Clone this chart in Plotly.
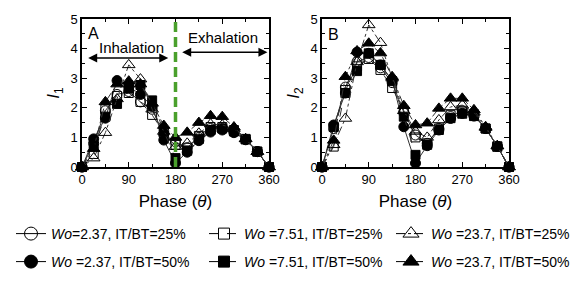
import plotly.graph_objects as go

phase = [0, 22.5, 45, 67.5, 90, 112.5, 135, 157.5, 180, 202.5, 225, 247.5, 270, 292.5, 315, 337.5, 360]

# Panel A: I1
i1_c25 = [0, 0.80, 1.90, 2.45, 2.55, 2.20, 1.95, 1.10, 0.85, 0.65, 1.00, 1.30, 1.30, 1.20, 0.93, 0.52, 0]
i1_c50 = [0, 0.95, 1.65, 2.92, 2.72, 2.45, 2.05, 0.91, 0.13, 0.50, 0.89, 1.18, 1.25, 1.16, 0.92, 0.52, 0]
i1_s25 = [0, 0.44, 1.95, 2.40, 2.50, 2.20, 1.76, 1.15, 0.75, 0.65, 1.05, 1.35, 1.35, 1.25, 0.95, 0.52, 0]
i1_s50 = [0, 0.70, 1.70, 2.13, 2.65, 2.77, 2.25, 1.20, 0.30, 0.55, 0.95, 1.25, 1.30, 1.20, 0.93, 0.52, 0]
i1_t25 = [0, 0.30, 1.16, 2.30, 3.45, 2.97, 1.95, 1.20, 0.69, 0.80, 1.14, 1.45, 1.42, 1.30, 0.95, 0.52, 0]
i1_t50 = [0, 0.62, 2.20, 2.80, 2.90, 2.80, 2.15, 1.40, 1.00, 1.17, 1.50, 1.73, 1.70, 1.35, 0.95, 0.52, 0]

# Panel B: I2
i2_c25 = [0, 1.30, 2.70, 3.56, 3.70, 3.35, 2.85, 1.85, 1.08, 0.80, 1.30, 1.70, 1.90, 1.75, 1.30, 0.70, 0]
i2_c50 = [0, 1.42, 2.50, 3.88, 3.84, 3.45, 2.94, 1.36, 0.13, 0.72, 1.25, 1.64, 1.81, 1.72, 1.30, 0.70, 0]
i2_s25 = [0, 0.69, 2.60, 3.40, 3.65, 3.28, 2.67, 1.90, 1.00, 0.80, 1.30, 1.75, 1.90, 1.78, 1.30, 0.68, 0]
i2_s50 = [0, 1.35, 2.50, 3.24, 3.84, 3.45, 2.90, 1.70, 0.41, 0.75, 1.25, 1.65, 1.80, 1.72, 1.30, 0.70, 0]
i2_t25 = [0, 0.75, 1.64, 3.55, 4.80, 4.20, 3.00, 1.90, 1.20, 1.00, 1.59, 2.03, 2.09, 1.85, 1.33, 0.70, 0]
i2_t50 = [0, 0.90, 3.05, 3.92, 4.18, 3.85, 3.05, 2.07, 1.42, 1.48, 1.98, 2.32, 2.32, 1.93, 1.36, 0.72, 0]

labels = [
    "<i>Wo</i>=2.37, IT/BT=25%",
    "<i>Wo</i> =2.37, IT/BT=50%",
    "<i>Wo</i> =7.51, IT/BT=25%",
    "<i>Wo</i> =7.51, IT/BT=50%",
    "<i>Wo</i> =23.7, IT/BT=25%",
    "<i>Wo</i> =23.7, IT/BT=50%",
]
x_ticks = [0, 90, 180, 270, 360]
y_ticks = [0, 1, 2, 3, 4, 5]

styles = [
    dict(symbol="circle-open", dash="solid", size=10, lsize=13),
    dict(symbol="circle", dash="solid", size=10, lsize=13),
    dict(symbol="square-open", dash="dash", size=9, lsize=11),
    dict(symbol="square", dash="dash", size=9, lsize=11),
    dict(symbol="triangle-up-open", dash="dashdot", size=11, lsize=14),
    dict(symbol="triangle-up", dash="dashdot", size=11, lsize=14),
]
legend_pos = [(3, 226), (3, 254), (196, 226), (196, 254), (383, 226), (383, 254)]

W, H = 581, 289
FONT = "Liberation Sans, Arial, sans-serif"
fig = go.Figure()

seriesA = [i1_c25, i1_c50, i1_s25, i1_s50, i1_t25, i1_t50]
seriesB = [i2_c25, i2_c50, i2_s25, i2_s50, i2_t25, i2_t50]
line_col = "#333333"

for xa, ya, series in [("x", "y", seriesA), ("x2", "y2", seriesB)]:
    for st, vals in zip(styles, series):
        fig.add_trace(go.Scatter(
            x=phase, y=vals, xaxis=xa, yaxis=ya, mode="lines+markers",
            line=dict(color=line_col, width=1, dash=st["dash"]),
            marker=dict(symbol=st["symbol"], size=st["size"], color="black",
                        line=dict(color="black", width=1)),
            cliponaxis=False, showlegend=False))

# legend-only entries
for k, (st, lab) in enumerate(zip(styles, labels)):
    lname = "legend" if k == 0 else f"legend{k+1}"
    fig.add_trace(go.Scatter(
        x=[None], y=[None], mode="lines+markers", name=lab, legend=lname,
        line=dict(color="black", width=1, dash=st["dash"]),
        marker=dict(symbol=st["symbol"], size=st["lsize"], color="black",
                    line=dict(color="black", width=1)),
        showlegend=True))

for k, (lx, ly) in enumerate(legend_pos):
    lname = "legend" if k == 0 else f"legend{k+1}"
    fig.update_layout(**{lname: dict(
        x=lx / W, y=1 - ly / H, xref="paper", yref="paper",
        xanchor="left", yanchor="middle", bgcolor="rgba(0,0,0,0)",
        font=dict(family=FONT, size=14, color="black"),
        itemwidth=30)})

axis_common = dict(
    showline=True, linecolor="black", linewidth=1.5, mirror="allticks",
    ticks="inside", ticklen=5, tickwidth=1, tickcolor="black",
    showgrid=False, zeroline=False,
    tickfont=dict(family=FONT, size=13, color="black"),
)
xdomA = [74 / W, 261 / W]
xdomB = [314 / W, 501 / W]
ydom = [1 - 159 / H, 1 - 11 / H]
title_font = dict(family=FONT, size=17, color="black")

fig.update_layout(
    width=W, height=H, margin=dict(l=0, r=0, t=0, b=0, autoexpand=False),
    paper_bgcolor="white", plot_bgcolor="white",
    xaxis=dict(domain=xdomA, range=[0, 360], tickvals=x_ticks, anchor="y",
               minor=dict(dtick=45, ticks="inside", ticklen=3, tickcolor="black"),
               title=dict(text="Phase (<i>θ</i>)", font=title_font, standoff=9), **axis_common),
    yaxis=dict(domain=ydom, range=[0, 5], tickvals=y_ticks, anchor="x",
               minor=dict(dtick=0.5, ticks="inside", ticklen=3, tickcolor="black"),
               title=dict(text="<i>I</i><sub>1</sub>", font=title_font, standoff=6), **axis_common),
    xaxis2=dict(domain=xdomB, range=[0, 360], tickvals=x_ticks, anchor="y2",
                minor=dict(dtick=45, ticks="inside", ticklen=3, tickcolor="black"),
                title=dict(text="Phase (<i>θ</i>)", font=title_font, standoff=9), **axis_common),
    yaxis2=dict(domain=ydom, range=[0, 5], tickvals=y_ticks, anchor="x2",
                minor=dict(dtick=0.5, ticks="inside", ticklen=3, tickcolor="black"),
                title=dict(text="<i>I</i><sub>2</sub>", font=title_font, standoff=6), **axis_common),
)

# green dashed divider at 180 degrees in panel A
fig.add_shape(type="line", xref="x", yref="y", x0=180, x1=180, y0=0, y1=5,
              line=dict(color="#4aa02c", width=3.5, dash="10px,5px"))

txt_font = dict(family=FONT, size=15, color="black")
fig.add_annotation(x=0.02, y=0.97, xref="x domain", yref="y domain", text="A",
                   showarrow=False, xanchor="left", yanchor="top",
                   font=dict(size=16, family=FONT, color="black"))
fig.add_annotation(x=0.02, y=0.965, xref="x2 domain", yref="y2 domain", text="B",
                   showarrow=False, xanchor="left", yanchor="top",
                   font=dict(size=16, family=FONT, color="black"))
fig.add_annotation(x=96, y=4.05, xref="x", yref="y", text="Inhalation", showarrow=False,
                   font=txt_font)
fig.add_annotation(x=272, y=4.38, xref="x", yref="y", text="Exhalation", showarrow=False,
                   font=txt_font)
# double-headed arrows
fig.add_annotation(x=166, y=3.68, ax=9, ay=3.68, xref="x", yref="y", axref="x", ayref="y",
                   text="", showarrow=True, arrowhead=2, arrowside="end+start",
                   arrowsize=1.2, arrowwidth=1.5, arrowcolor="black")
fig.add_annotation(x=357, y=3.88, ax=190, ay=3.88, xref="x", yref="y", axref="x", ayref="y",
                   text="", showarrow=True, arrowhead=2, arrowside="end+start",
                   arrowsize=1.2, arrowwidth=1.5, arrowcolor="black")

fig.write_html("out.html")
